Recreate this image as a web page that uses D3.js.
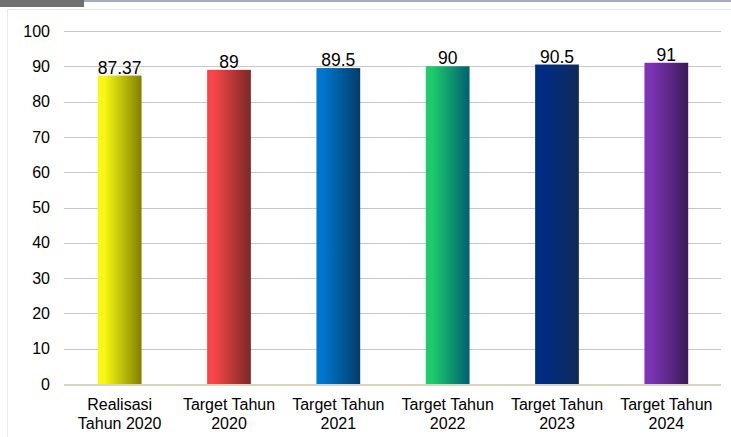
<!DOCTYPE html>
<html><head><meta charset="utf-8">
<script src="https://cdn.jsdelivr.net/npm/d3@7"></script>
<style>body{margin:0;background:#fff;}svg{display:block;font-family:"Liberation Sans",Arial,sans-serif;}</style>
</head><body><div id="chart"></div>
<script>
const categories = [["Realisasi","Tahun 2020"],["Target Tahun","2020"],["Target Tahun","2021"],["Target Tahun","2022"],["Target Tahun","2023"],["Target Tahun","2024"]];
const values = [87.37, 89, 89.5, 90, 90.5, 91];
const valueLabels = ["87.37","89","89.5","90","90.5","91"];
const colorsLight = ["#f8f814","#f84646","#0076cc","#1ccc6c","#002c84","#7c34b4"];
const colorsDark = ["#808000","#7c2828","#003c68","#006070","#0e2a58","#3c1a58"];
const yTicks = [0,10,20,30,40,50,60,70,80,90,100];

const W = 731, H = 437;
const svg = d3.select("#chart").append("svg").attr("width", W).attr("height", H);
const m = {left: 65, right: 10, top: 31, bottom: 53};
const x = d3.scaleBand().domain(d3.range(categories.length)).range([m.left, W - m.right]).paddingInner(0.6).paddingOuter(0.3);
const y = d3.scaleLinear().domain([0, 100]).range([H - m.bottom, m.top]);

// top decorations
svg.append("rect").attr("x",0).attr("y",0).attr("width",84).attr("height",7).attr("fill","#707070");
svg.append("line").attr("x1",84).attr("x2",W).attr("y1",1).attr("y2",1).attr("stroke","#a4acbc").attr("stroke-width",2);
svg.append("rect").attr("x",7.5).attr("y",9.5).attr("width",W).attr("height",H).attr("fill","none").attr("stroke","#ebebe4");

const defs = svg.append("defs");
values.forEach((v,i)=>{
  const g = defs.append("linearGradient").attr("id","g"+i).attr("x1","0").attr("x2","1").attr("y1","0").attr("y2","0");
  g.append("stop").attr("offset","0").attr("stop-color",colorsLight[i]);
  g.append("stop").attr("offset","0.15").attr("stop-color",colorsLight[i]);
  g.append("stop").attr("offset","1").attr("stop-color",colorsDark[i]);
});

// gridlines
svg.append("g").selectAll("line").data(yTicks.filter(t=>t>0)).join("line")
  .attr("x1", m.left - 1).attr("x2", W - m.right)
  .attr("y1", d=>Math.round(y(d))+0.5).attr("y2", d=>Math.round(y(d))+0.5)
  .attr("stroke","#c8c8c8");

// y axis labels
const yAxis = d3.axisLeft(y).tickValues(yTicks).tickSize(0).tickPadding(15);
const ga = svg.append("g").attr("transform",`translate(${m.left},0)`).call(yAxis);
ga.select(".domain").remove();
ga.selectAll("text").attr("font-size",16).attr("fill","#000").attr("font-family","Liberation Sans, Arial, sans-serif");

// bars
svg.append("g").selectAll("rect").data(values).join("rect")
  .attr("x",(d,i)=>x(i)).attr("width",x.bandwidth())
  .attr("y",d=>y(d)).attr("height",d=>y(0)-y(d))
  .attr("fill",(d,i)=>`url(#g${i})`);

// baseline
svg.append("line").attr("x1",m.left-1).attr("x2",W-m.right).attr("y1",y(0)+1).attr("y2",y(0)+1)
  .attr("stroke","#d8d4c0").attr("stroke-width",2);

// value labels
svg.append("g").selectAll("text").data(values).join("text")
  .attr("x",(d,i)=>x(i)+x.bandwidth()/2).attr("y",d=>y(d)-2)
  .attr("text-anchor","middle").attr("font-size",17.5).attr("fill","#000")
  .text((d,i)=>valueLabels[i]);

// category labels
const xAxis = d3.axisBottom(x).tickSize(0).tickFormat("");
const gx = svg.append("g").attr("transform",`translate(0,${y(0)})`).call(xAxis);
gx.select(".domain").remove();
gx.selectAll(".tick").each(function(d){
  const t = d3.select(this).append("text").attr("text-anchor","middle").attr("font-size",16).attr("fill","#000");
  t.append("tspan").attr("x",0).attr("y",26).text(categories[d][0]);
  t.append("tspan").attr("x",0).attr("y",45).text(categories[d][1]);
});
</script></body></html>
